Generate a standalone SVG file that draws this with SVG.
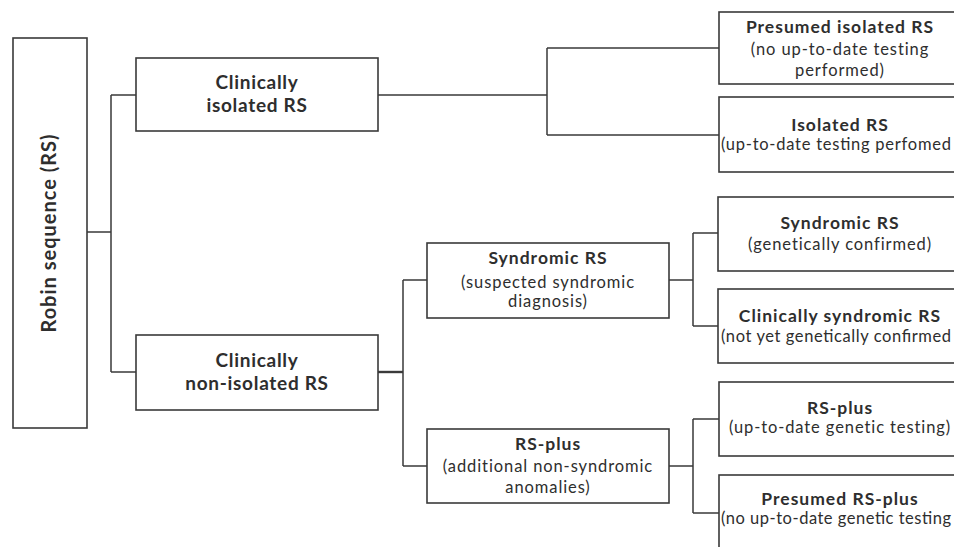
<svg xmlns="http://www.w3.org/2000/svg" width="954" height="547" viewBox="0 0 954 547">
<style>
.box{fill:#fff;stroke:#3a3a3a;stroke-width:1.6}
.ln{fill:none;stroke:#3a3a3a;stroke-width:1.5}
text{font-family:Lato,"Open Sans","Liberation Sans",sans-serif;fill:#2e2e2e;text-anchor:middle}
.t{font-weight:bold;font-size:17.5px;letter-spacing:1px}
.L{font-weight:bold;font-size:19px;letter-spacing:0.7px}
.s{font-size:16.5px;letter-spacing:0.9px}
.st{text-anchor:start;letter-spacing:0}
</style>
<rect width="954" height="547" fill="#fff"/>
<g id="connectors">
<path class="ln" d="M87,232 H111 M111,95 V372 M111,95 H136 M111,372 H136"/>
<path class="ln" d="M378,95 H547 M547,48 V135 M547,48 H719 M547,135 H719"/>
<path class="ln" d="M378,372 H403" style="stroke-width:2.4"/>
<path class="ln" d="M403,280 V466 M403,280 H427 M403,466 H427"/>
<path class="ln" d="M669,280 H693 M693,233 V326 M693,233 H718 M693,326 H718"/>
<path class="ln" d="M669,466 H693 M693,419 V513 M693,419 H719 M693,513 H719"/>
</g>
<g id="root">
<rect class="box" x="13" y="38" width="74" height="390"/>
<text style="font-weight:bold;font-size:20px;letter-spacing:1px" transform="translate(56,233) rotate(-90)">Robin sequence (RS)</text>
</g>
<g id="clin-isolated">
<rect class="box" x="136" y="58" width="242" height="73"/>
<text class="L" x="257" y="89">Clinically</text>
<text class="L" x="257" y="112">isolated RS</text>
</g>
<g id="clin-nonisolated">
<rect class="box" x="136" y="335" width="242" height="75"/>
<text class="L" x="257" y="367">Clinically</text>
<text class="L" x="257" y="390">non-isolated RS</text>
</g>
<g id="syndromic-mid">
<rect class="box" x="427" y="243" width="242" height="75"/>
<text class="t" x="548" y="264">Syndromic RS</text>
<text class="s" x="548" y="288">(suspected syndromic</text>
<text class="s" x="548" y="307">diagnosis)</text>
</g>
<g id="rsplus-mid">
<rect class="box" x="427" y="429" width="242" height="74"/>
<text class="t" x="548" y="450">RS-plus</text>
<text class="s" x="548" y="472">(additional non-syndromic</text>
<text class="s" x="548" y="493">anomalies)</text>
</g>
<g id="presumed-isolated">
<rect class="box" x="719" y="12" width="242" height="72"/>
<text class="t" x="840" y="33">Presumed isolated RS</text>
<text class="s" x="840" y="55">(no up-to-date testing</text>
<text class="s" x="840" y="76">performed)</text>
</g>
<g id="isolated">
<rect class="box" x="719" y="97" width="242" height="75"/>
<text class="t" x="840" y="131">Isolated RS</text>
<text class="s st" x="721" y="150" textLength="230" lengthAdjust="spacing">(up-to-date testing perfomed</text>
</g>
<g id="syndromic-confirmed">
<rect class="box" x="718" y="197" width="243" height="74"/>
<text class="t" x="840" y="229">Syndromic RS</text>
<text class="s" x="840" y="250">(genetically confirmed)</text>
</g>
<g id="clin-syndromic">
<rect class="box" x="718" y="289" width="243" height="74"/>
<text class="t" x="840" y="322">Clinically syndromic RS</text>
<text class="s st" x="721" y="342" textLength="230" lengthAdjust="spacing">(not yet genetically confirmed</text>
</g>
<g id="rsplus-tested">
<rect class="box" x="719" y="382" width="242" height="74"/>
<text class="t" x="840" y="414">RS-plus</text>
<text class="s" x="840" y="433">(up-to-date genetic testing)</text>
</g>
<g id="presumed-rsplus">
<rect class="box" x="719" y="475" width="242" height="80"/>
<text class="t" x="840" y="505">Presumed RS-plus</text>
<text class="s st" x="721" y="524" textLength="230" lengthAdjust="spacing">(no up-to-date genetic testing</text>
</g>
</svg>
